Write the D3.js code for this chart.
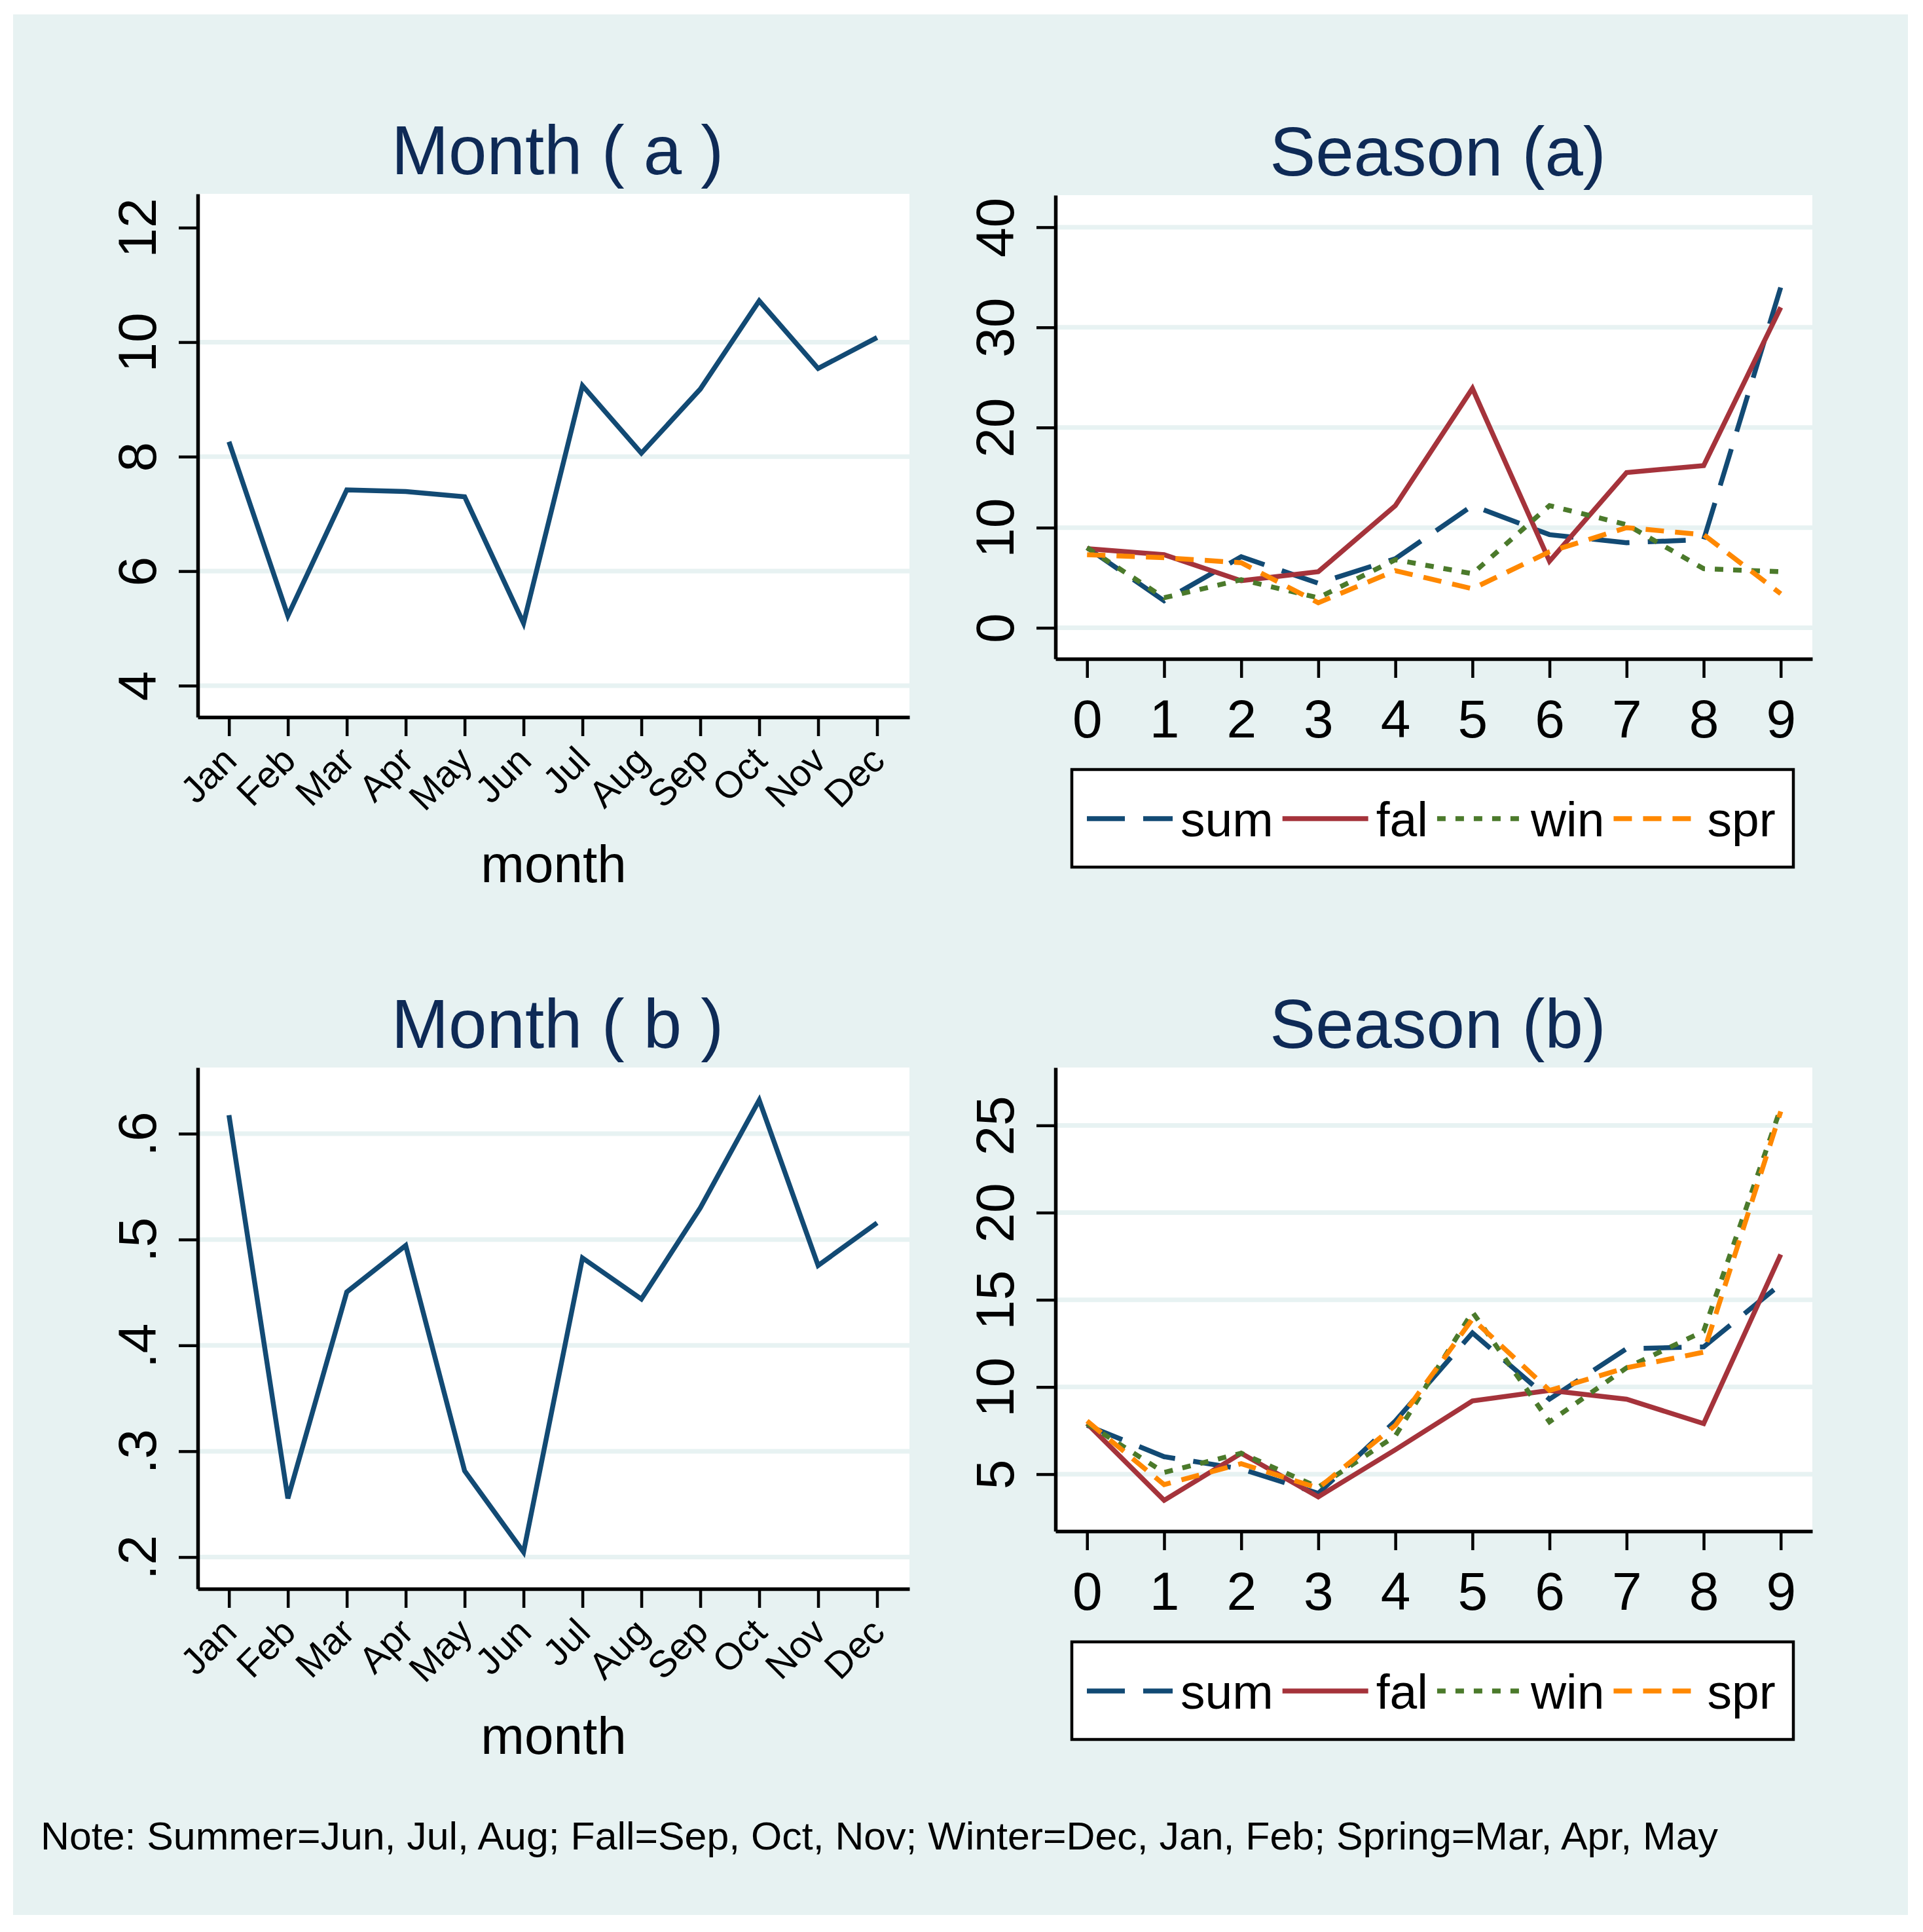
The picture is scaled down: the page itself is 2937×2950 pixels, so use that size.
<!DOCTYPE html>
<html>
<head>
<meta charset="utf-8">
<script src="https://cdn.jsdelivr.net/npm/d3@7"></script>
<style>
  body { margin: 0; background: #fff; }
  svg text { font-family: "Liberation Sans", Arial, Helvetica, sans-serif; }
</style>
</head>
<body>
<svg id="chart"></svg>
<script>
// values
const months = ["Jan", "Feb", "Mar", "Apr", "May", "Jun", "Jul", "Aug", "Sep", "Oct", "Nov", "Dec"];
const monthA = [8.26, 5.22, 7.42, 7.39, 7.30, 5.09, 9.24, 8.06, 9.18, 10.72, 9.54, 10.08];
const monthB = [0.6175, 0.2554, 0.4504, 0.4944, 0.2814, 0.2047, 0.4826, 0.4438, 0.5299, 0.6317, 0.4755, 0.5157];

const seasonX = [0, 1, 2, 3, 4, 5, 6, 7, 8, 9];
const sumA = [8.0, 2.7, 7.1, 4.45, 6.9, 12.2, 9.3, 8.5, 8.8, 34.0];
const falA = [7.9, 7.3, 4.7, 5.6, 12.2, 23.9, 6.65, 15.5, 16.2, 32.0];
const winA = [8.0, 3.0, 4.8, 3.0, 6.8, 5.4, 12.2, 10.3, 5.9, 5.6];
const sprA = [7.3, 7.0, 6.5, 2.5, 5.7, 3.9, 7.6, 10.0, 9.3, 3.4];

const sumB = [7.8, 6.0, 5.3, 3.9, 8.05, 13.1, 9.3, 12.2, 12.3, 15.9];
const falB = [7.9, 3.5, 6.2, 3.7, 6.4, 9.2, 9.8, 9.3, 7.9, 17.6];
const winB = [7.9, 5.1, 6.2, 4.25, 7.2, 14.3, 8.0, 11.1, 13.2, 26.0];
const sprB = [8.05, 4.4, 5.6, 4.2, 7.8, 13.9, 9.8, 11.1, 12.0, 25.8];

const seriesNames = ["sum", "fal", "win", "spr"];
const ticksMonthA = [4, 6, 8, 10, 12];
const ticksMonthB = [0.2, 0.3, 0.4, 0.5, 0.6];
const ticksSeasonA = [0, 10, 20, 30, 40];
const ticksSeasonB = [5, 10, 15, 20, 25];

const noteText = "Note: Summer=Jun, Jul, Aug; Fall=Sep, Oct, Nov; Winter=Dec, Jan, Feb; Spring=Mar, Apr, May";

const width = 2937;
const height = 2950;
const bg = "#e7f2f2";
const titleColor = "#0e2a56";

const styles = {
  sum: { color: "#124a74", dash: "58,28" },
  fal: { color: "#a5333b", dash: null },
  win: { color: "#4b7a2b", dash: "13,15" },
  spr: { color: "#ff8800", dash: "28,17" }
};

const svg = d3.select("#chart")
  .attr("width", width)
  .attr("height", height);

svg.append("rect")
  .attr("x", 20).attr("y", 22)
  .attr("width", 2894).attr("height", 2902)
  .attr("fill", bg);

function panel(opt) {
  const g = svg.append("g");
  const { left, right, top, bottom } = opt;

  g.append("rect")
    .attr("x", left).attr("y", top)
    .attr("width", right - left).attr("height", bottom - top)
    .attr("fill", "#fff");

  const x = d3.scaleLinear().domain(opt.xDomain).range([left, right]);
  const y = d3.scaleLinear().domain(opt.yDomain).range([bottom, top]);

  // grid lines
  g.selectAll(".grid")
    .data(opt.grid)
    .join("line")
    .attr("x1", left).attr("x2", right)
    .attr("y1", d => y(d)).attr("y2", d => y(d))
    .attr("stroke", bg)
    .attr("stroke-width", 7);

  // lines
  const line = d3.line().x((d, i) => x(opt.xs[i])).y(d => y(d));
  opt.series.forEach(s => {
    const p = g.append("path")
      .datum(s.values)
      .attr("d", line)
      .attr("fill", "none")
      .attr("stroke", s.color)
      .attr("stroke-width", 7.5);
    if (s.dash) p.attr("stroke-dasharray", s.dash);
  });

  // y axis
  const yAxis = g.append("g")
    .attr("transform", `translate(${left},0)`)
    .call(d3.axisLeft(y).tickValues(opt.yTicks).tickFormat(opt.yFormat)
      .tickSize(29).tickSizeOuter(0));
  yAxis.select(".domain").attr("stroke", "#000").attr("stroke-width", 5.5);
  yAxis.selectAll(".tick line").attr("stroke", "#000").attr("stroke-width", 4.5);
  yAxis.selectAll(".tick text")
    .attr("x", 0).attr("y", -64).attr("dy", 0)
    .attr("transform", "rotate(-90)")
    .attr("text-anchor", "middle")
    .attr("fill", "#000")
    .style("font-size", "82px");

  // x axis
  const xAxis = g.append("g")
    .attr("transform", `translate(0,${bottom})`)
    .call(d3.axisBottom(x).tickValues(opt.xs).tickFormat(opt.xFormat)
      .tickSize(29).tickSizeOuter(0));
  xAxis.select(".domain").attr("stroke", "#000").attr("stroke-width", 5.5);
  xAxis.selectAll(".tick line").attr("stroke", "#000").attr("stroke-width", 4.5);
  if (opt.rotateX) {
    xAxis.selectAll(".tick text")
      .attr("x", 0).attr("y", 0).attr("dy", "0.36em")
      .attr("transform", "translate(0,55) rotate(-45)")
      .attr("text-anchor", "end")
      .attr("fill", "#000")
      .style("font-size", "57px");
  } else {
    xAxis.selectAll(".tick text")
      .attr("y", 120).attr("dy", 0)
      .attr("fill", "#000")
      .style("font-size", "82px");
  }
  xAxis.attr("font-family", null).attr("font-size", null);
  yAxis.attr("font-family", null).attr("font-size", null);

  // title
  g.append("text")
    .attr("x", (left + right) / 2 + 6).attr("y", top - 30)
    .attr("text-anchor", "middle")
    .attr("fill", titleColor)
    .style("font-size", "105px")
    .text(opt.title);

  if (opt.xTitle) {
    g.append("text")
      .attr("x", (left + right) / 2).attr("y", bottom + 252)
      .attr("text-anchor", "middle")
      .attr("fill", "#000")
      .style("font-size", "80px")
      .text(opt.xTitle);
  }

  if (opt.legend) {
    const ly = bottom + 169;
    const lg = g.append("g");
    lg.append("rect")
      .attr("x", 1637).attr("y", ly)
      .attr("width", 1102).attr("height", 149)
      .attr("fill", "#fff")
      .attr("stroke", "#000")
      .attr("stroke-width", 4.5);
    let cx = 1660;
    const ky = ly + 75;
    opt.series.forEach(s => {
      const k = lg.append("line")
        .attr("x1", cx).attr("x2", cx + 131)
        .attr("y1", ky).attr("y2", ky)
        .attr("stroke", s.color)
        .attr("stroke-width", 7.5);
      if (s.dash) k.attr("stroke-dasharray", s.dash);
      cx += 131 + 12;
      const t = lg.append("text")
        .attr("x", cx).attr("y", ky + 27)
        .attr("fill", "#000")
        .style("font-size", "75px")
        .text(s.name);
      cx += t.node().getComputedTextLength() + 14;
    });
  }
}

function seasonSeries(vals) {
  return seriesNames.map((n, i) => ({ name: n, values: vals[i], color: styles[n].color, dash: styles[n].dash }));
}

const monthIdx = months.map((m, i) => i);

panel({
  title: "Month ( a )", left: 302, right: 1389, top: 296, bottom: 1095,
  xDomain: [-0.53, 11.55], yDomain: [3.45, 12.59],
  xs: monthIdx, xFormat: i => months[i], rotateX: true, xTitle: "month",
  yTicks: ticksMonthA, yFormat: d3.format("d"), grid: ticksMonthA.slice(0, 4),
  series: [{ name: "a", values: monthA, color: styles.sum.color, dash: null }]
});

panel({
  title: "Month ( b )", left: 302, right: 1389, top: 1630, bottom: 2426,
  xDomain: [-0.53, 11.55], yDomain: [0.170, 0.6625],
  xs: monthIdx, xFormat: i => months[i], rotateX: true, xTitle: "month",
  yTicks: ticksMonthB, yFormat: d => d3.format(".1f")(d).replace(/^0/, ""), grid: ticksMonthB,
  series: [{ name: "b", values: monthB, color: styles.sum.color, dash: null }]
});

panel({
  title: "Season (a)", left: 1612, right: 2768, top: 298, bottom: 1006,
  xDomain: [-0.41, 9.41], yDomain: [-3.1, 43.2],
  xs: seasonX, xFormat: d3.format("d"), rotateX: false,
  yTicks: ticksSeasonA, yFormat: d3.format("d"), grid: ticksSeasonA,
  series: seasonSeries([sumA, falA, winA, sprA]), legend: true
});

panel({
  title: "Season (b)", left: 1612, right: 2768, top: 1630, bottom: 2338,
  xDomain: [-0.41, 9.41], yDomain: [1.73, 28.32],
  xs: seasonX, xFormat: d3.format("d"), rotateX: false,
  yTicks: ticksSeasonB, yFormat: d3.format("d"), grid: ticksSeasonB,
  series: seasonSeries([sumB, falB, winB, sprB]), legend: true
});

svg.append("text")
  .attr("x", 62).attr("y", 2824)
  .attr("fill", "#000")
  .attr("textLength", 2562)
  .attr("lengthAdjust", "spacingAndGlyphs")
  .style("font-size", "60px")
  .text(noteText);
</script>
</body>
</html>
